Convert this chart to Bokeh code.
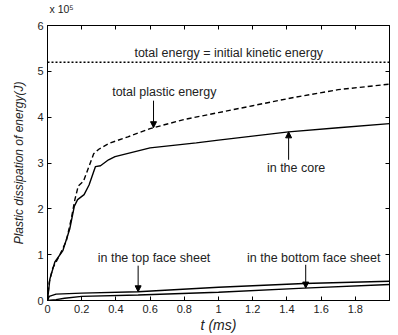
import numpy as np
from bokeh.plotting import figure
from bokeh.models import (LinearAxis, Label, Arrow, NormalHead, FixedTicker, Range1d, Span,
                          CustomLabelingPolicy)
from bokeh.embed import file_html
from bokeh.resources import INLINE

# ---- data (energy in units of 1e5 J, time in ms) ----
t_total = [0, 0.01, 0.03, 0.07, 0.11, 0.14, 0.16, 0.18, 0.21, 0.24, 0.27, 0.30, 0.36, 0.47, 0.6, 0.8, 1.0, 1.2, 1.44, 1.7, 2.0]
e_total = [0, 0.4, 0.7, 0.98, 1.3, 1.8, 2.2, 2.5, 2.6, 2.9, 3.2, 3.3, 3.43, 3.57, 3.75, 3.95, 4.1, 4.25, 4.43, 4.6, 4.72]

t_core = [0, 0.014, 0.043, 0.09, 0.13, 0.157, 0.176, 0.214, 0.243, 0.28, 0.31, 0.357, 0.395, 0.6, 0.87, 1.0, 1.41, 1.7, 2.0]
e_core = [0, 0.47, 0.84, 1.09, 1.56, 2.06, 2.2, 2.31, 2.52, 2.92, 2.94, 3.07, 3.14, 3.33, 3.44, 3.5, 3.68, 3.77, 3.86]

t_top = [0, 0.01, 0.05, 0.2, 0.53, 1.0, 1.5, 2.0]
e_top = [0, 0.09, 0.14, 0.16, 0.19, 0.29, 0.37, 0.42]

t_bottom = [0, 0.05, 0.1, 0.2, 0.53, 1.0, 1.5, 2.0]
e_bottom = [0, 0.02, 0.05, 0.09, 0.12, 0.18, 0.27, 0.35]

initial_kinetic = 5.2

x_ticks = [0, 0.2, 0.4, 0.6, 0.8, 1.0, 1.2, 1.4, 1.6, 1.8]
y_ticks = [0, 1, 2, 3, 4, 5, 6]
x_tick_labels = {0: "0", 0.2: "0.2", 0.4: "0.4", 0.6: "0.6", 0.8: "0.8", 1.0: "1", 1.2: "1.2", 1.4: "1.4", 1.6: "1.6", 1.8: "1.8"}

FONT = "Liberation Sans"
TXT = "#222222"

p = figure(width=398, height=335, x_range=Range1d(0, 2), y_range=Range1d(0, 6),
           output_backend="svg", toolbar_location=None,
           title="x 10\u2075",
           min_border_left=47, min_border_right=1, min_border_top=24, min_border_bottom=33)
p.title.text_font = FONT
p.title.text_font_size = "10.5px"
p.title.text_font_style = "normal"
p.title.text_color = TXT
p.title.align = "left"
p.title.offset = 2
p.title.standoff = 0

p.xgrid.visible = False
p.ygrid.visible = False
p.outline_line_color = "black"
p.outline_line_width = 1
p.background_fill_color = "white"
p.border_fill_color = "white"

for ax, ticks in ((p.xaxis[0], x_ticks), (p.yaxis[0], y_ticks)):
    ax.ticker = FixedTicker(ticks=ticks)
    ax.major_tick_in = 4
    ax.major_tick_out = 0
    ax.minor_tick_line_color = None
    ax.major_label_text_font = FONT
    ax.major_label_text_font_size = "11px"
    ax.major_label_text_color = TXT
    ax.major_label_standoff = 4
    ax.axis_line_color = "black"
    ax.major_tick_line_color = "black"
    ax.axis_label_text_font = FONT
    ax.axis_label_text_font_style = "italic"
    ax.axis_label_text_color = TXT

p.xaxis[0].major_label_overrides = x_tick_labels
p.xaxis[0].axis_label = "t (ms)"
p.xaxis[0].axis_label_text_font_size = "14px"
p.xaxis[0].axis_label_standoff = 1
p.yaxis[0].axis_label = "Plastic dissipation of energy(J)"
p.yaxis[0].axis_label_text_font_size = "12px"
p.yaxis[0].axis_label_standoff = 8

no_labels = CustomLabelingPolicy(code="""
    for (let i = 0; i < indices.size; i++) { indices.unset(i) }
    return indices
""")
for loc, ticks in (("right", y_ticks), ("above", x_ticks)):
    a = LinearAxis(ticker=FixedTicker(ticks=ticks), major_label_policy=no_labels,
                   major_label_standoff=0, major_tick_in=4, major_tick_out=0,
                   minor_tick_line_color=None, axis_line_color="black")
    p.add_layout(a, loc)

p.add_layout(Span(location=initial_kinetic, dimension="width", line_color="black",
                  line_width=1.5, line_dash="2 2"))

p.line(t_total, e_total, line_color="black", line_width=1.4, line_dash="5 3")
p.line(t_core, e_core, line_color="black", line_width=1.4)
p.line(t_top, e_top, line_color="black", line_width=1.4)
p.line(t_bottom, e_bottom, line_color="black", line_width=1.4)

def label(text, x, y, size="12.5px"):
    p.add_layout(Label(x=x, y=y, text=text, text_font=FONT, text_font_size=size,
                       text_color=TXT, text_align="center", text_baseline="middle"))

def arrow(x, y0, ts, es):
    y1 = float(np.interp(x, ts, es))
    p.add_layout(Arrow(end=NormalHead(size=6, fill_color="black", line_color="black"),
                       x_start=x, y_start=y0, x_end=x, y_end=y1,
                       line_color="black", line_width=1))

label("total energy = initial kinetic energy", 1.06, 5.41)
label("total plastic energy", 0.683, 4.56)
arrow(0.62, 4.36, t_total, e_total)
label("in the core", 1.454, 2.89)
arrow(1.41, 3.07, t_core, e_core)
label("in the top face sheet", 0.623, 0.93)
arrow(0.53, 0.76, t_top, e_top)
label("in the bottom face sheet", 1.557, 0.93)
arrow(1.51, 0.78, t_bottom, e_bottom)

open("out.html", "w").write(file_html(p, INLINE))
